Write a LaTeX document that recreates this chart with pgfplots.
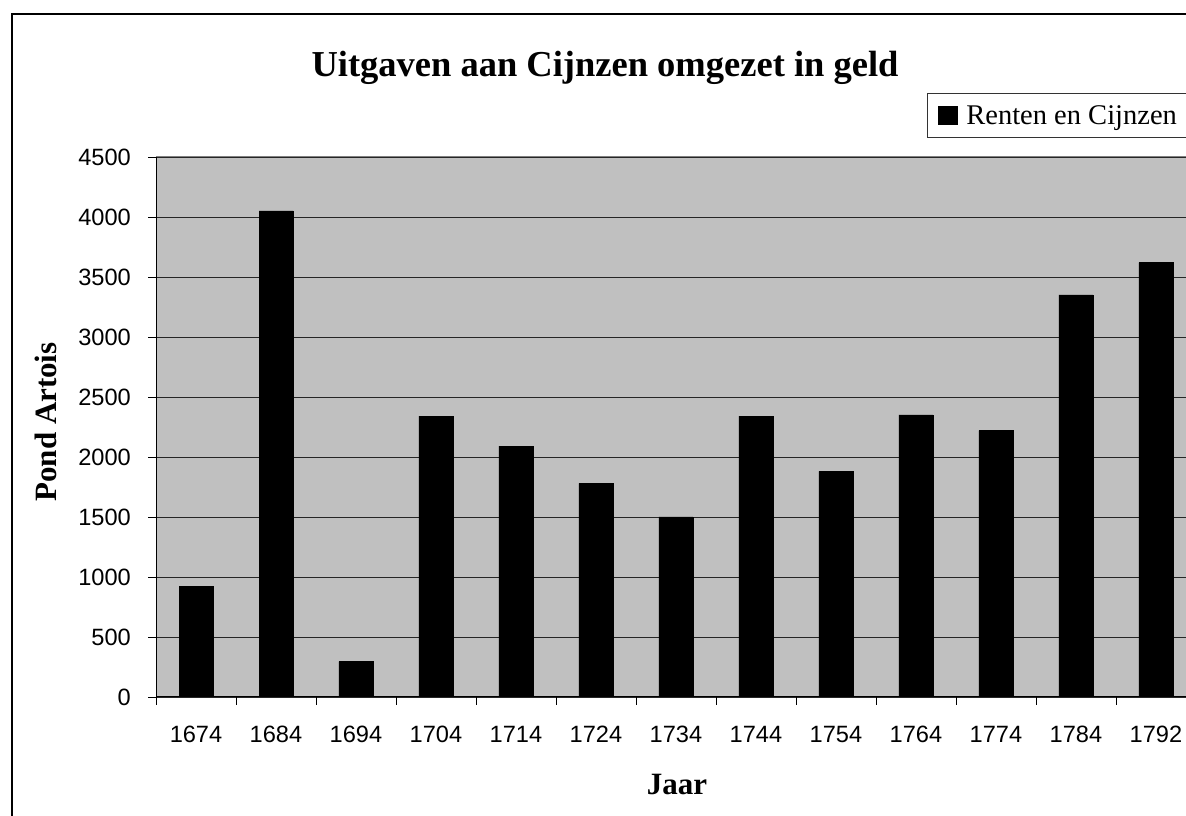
\documentclass[border=0pt]{standalone}
\usepackage{pgfplots}
\pgfplotsset{compat=1.18}
\usepackage{fontspec}
\setmainfont{Liberation Serif}
\newfontfamily\arial{Liberation Sans}
\definecolor{plotbg}{RGB}{192,192,192}
\begin{document}
\begin{tikzpicture}[x=1pt,y=1pt]
\useasboundingbox (0,0) rectangle (1186,816);
\clip (0,0) rectangle (1186,816);
\fill[white] (0,0) rectangle (1186,816);
\draw[black, line width=1.2pt] (12,-10) rectangle (1200,802);
\begin{axis}[
  at={(156pt,119pt)}, anchor=south west,
  scale only axis, width=1040pt, height=540pt,
  xmin=-0.5, xmax=12.5, ymin=0, ymax=4500,
  ytick={0,500,...,4500},
  xtick={-0.5,0.5,1.5,2.5,3.5,4.5,5.5,6.5,7.5,8.5,9.5,10.5,11.5,12.5},
  x tick label as interval,
  xticklabels={1674,1684,1694,1704,1714,1724,1734,1744,1754,1764,1774,1784,1792},
  axis x line*=bottom, axis y line*=left,
  axis line style={black, line width=1pt, -},
  axis background/.style={fill=plotbg, draw=black!50, line width=1pt},
  tick align=outside, major tick length=8pt,
  tick style={black, line width=0.8pt},
  ymajorgrids, major grid style={black!85, line width=0.9pt},
  /pgf/number format/assume math mode=true,
  /pgf/number format/1000 sep={},
  tick label style={font=\arial\fontsize{23.6}{28}\selectfont},
  yticklabel style={inner sep=0pt, anchor=east, xshift=-17pt},
  xticklabel style={inner sep=0pt, anchor=north, yshift=-21pt},
  legend style={at={(0.7413,1.1185)}, anchor=north west, draw=black!80, line width=0.8pt, fill=white,
    font=\rmfamily\fontsize{28.5}{34}\selectfont, inner xsep=8pt, inner ysep=10pt},
  legend image code/.code={\fill[black,draw=none] (3pt,-9.5pt) rectangle (23pt,9.5pt); \path[draw=none,fill=none] (0pt,0pt) -- (29pt,0pt);},
]
\addplot[ybar, fill=black, draw=black, bar width=34pt] coordinates {
(0,920) (1,4050) (2,295) (3,2340) (4,2090) (5,1780) (6,1500)
(7,2340) (8,1880) (9,2350) (10,2220) (11,3350) (12,3620)};
\addlegendentry{Renten en Cijnzen}
\end{axis}
\node[anchor=base, font=\bfseries\fontsize{36.5}{44}\selectfont] at (605,739) {Uitgaven aan Cijnzen omgezet in geld};
\node[anchor=base, font=\bfseries\fontsize{31}{37}\selectfont] at (677,21) {Jaar};
\node[anchor=base, rotate=90, font=\bfseries\fontsize{31}{37}\selectfont] at (57,394) {Pond Artois};
\end{tikzpicture}
\end{document}
